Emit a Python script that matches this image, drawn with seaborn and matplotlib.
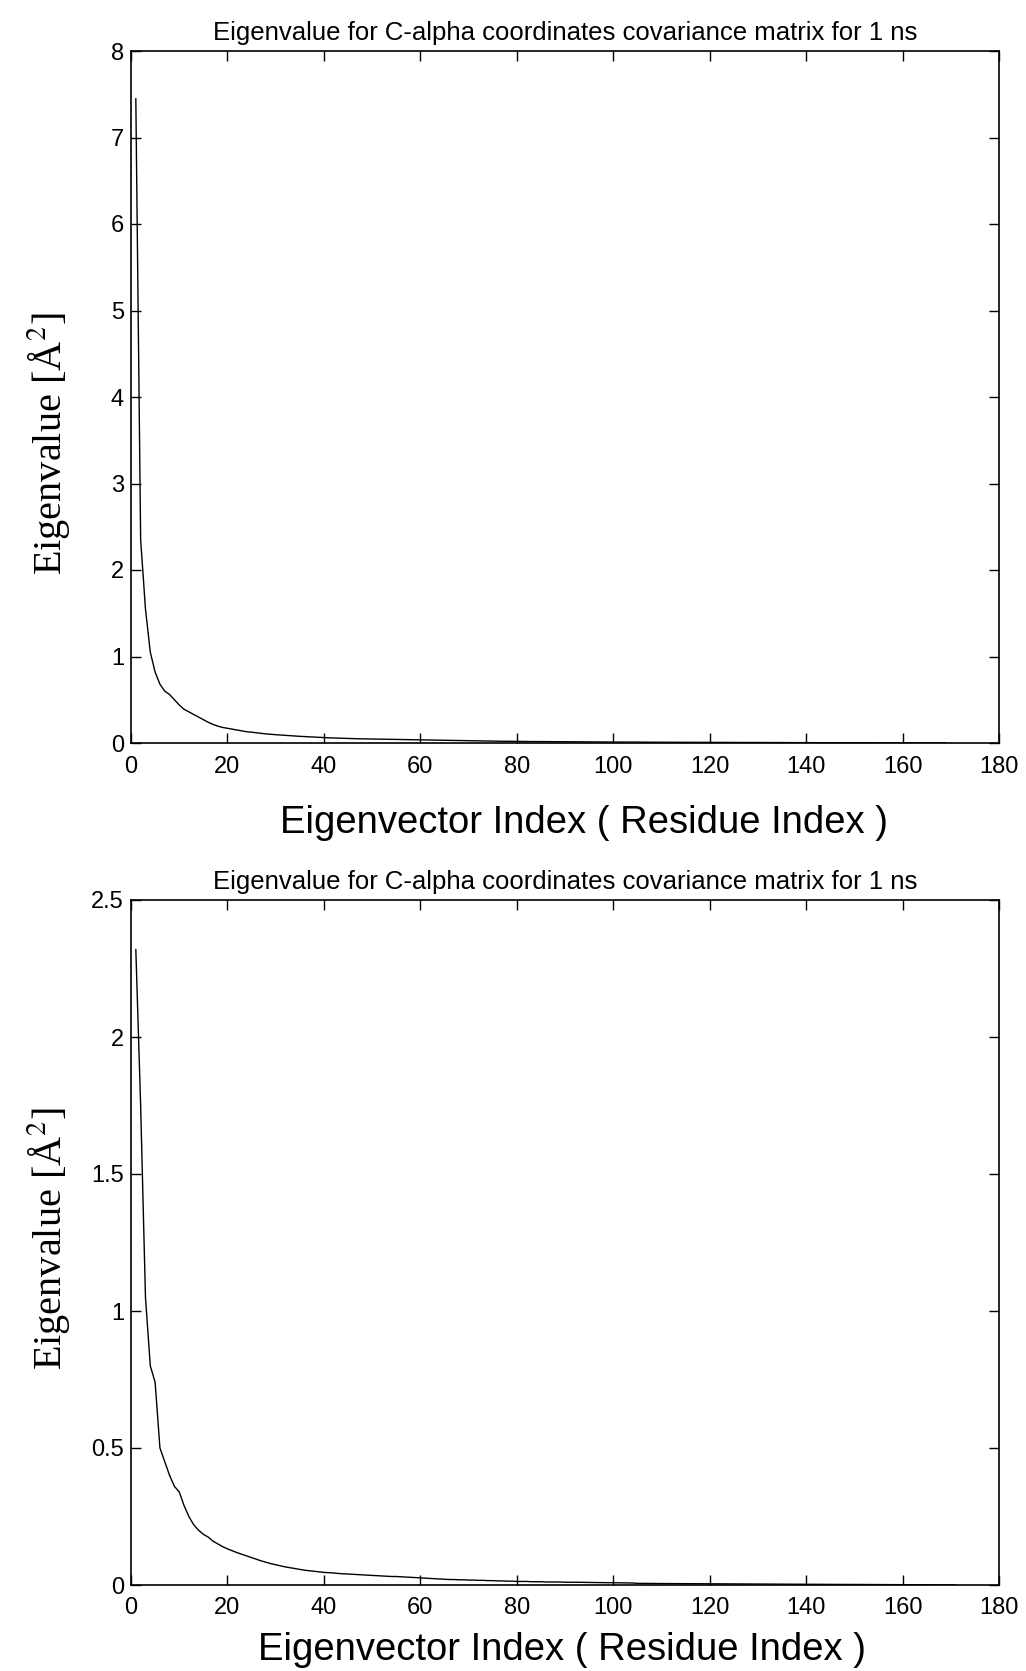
import numpy as np
import pandas as pd
import matplotlib
matplotlib.use("Agg")
import matplotlib.pyplot as plt
from matplotlib import font_manager as fm
import seaborn as sns

# ---------------- data ----------------
title_text = "Eigenvalue for C-alpha coordinates covariance matrix for 1 ns"
xlabel_text = "Eigenvector Index ( Residue Index )"
ylabel_text = "Eigenvalue [Å$^{2}$]"

xticks = [0, 20, 40, 60, 80, 100, 120, 140, 160, 180]
yticks_top = [0, 1, 2, 3, 4, 5, 6, 7, 8]
yticks_bottom = [0, 0.5, 1, 1.5, 2, 2.5]
ytick_labels_bottom = ["0", "0.5", "1", "1.5", "2", "2.5"]

eig_top = [
    7.45, 2.35, 1.55, 1.05, 0.82, 0.68, 0.60, 0.56, 0.50, 0.44,
    0.39, 0.36, 0.33, 0.30, 0.27, 0.24, 0.215, 0.195, 0.18, 0.17,
    0.16, 0.15, 0.14, 0.13, 0.125, 0.118, 0.112, 0.105, 0.10, 0.096,
    0.092, 0.088, 0.084, 0.080, 0.077, 0.074, 0.071, 0.068, 0.065, 0.062,
    0.060, 0.058, 0.056, 0.054, 0.052, 0.050, 0.049, 0.048, 0.046, 0.045,
    0.044, 0.043, 0.042, 0.041, 0.040, 0.039, 0.038, 0.037, 0.036, 0.035,
    0.034, 0.033, 0.032, 0.031, 0.030, 0.029, 0.028, 0.028, 0.027, 0.026,
    0.025, 0.024, 0.023, 0.022, 0.021, 0.021, 0.020, 0.020, 0.019, 0.019,
    0.018, 0.018, 0.017, 0.017, 0.016, 0.016, 0.015, 0.015, 0.015, 0.014,
    0.014, 0.014, 0.013, 0.013, 0.013, 0.012, 0.012, 0.012, 0.011, 0.011,
    0.011, 0.011, 0.010, 0.010, 0.010, 0.010, 0.009, 0.009, 0.009, 0.009,
    0.0088, 0.0086, 0.0084, 0.0082, 0.0080, 0.0078, 0.0076, 0.0074, 0.0072, 0.0070,
    0.0068, 0.0066, 0.0065, 0.0063, 0.0062, 0.0060, 0.0058, 0.0057, 0.0055, 0.0054,
    0.0052, 0.0051, 0.0050, 0.0048, 0.0047, 0.0046, 0.0044, 0.0043, 0.0042, 0.0041,
    0.0040, 0.0038, 0.0037, 0.0036, 0.0035, 0.0034, 0.0033, 0.0032, 0.0031, 0.0030,
    0.0029, 0.0028, 0.0027, 0.0026, 0.0025, 0.0024, 0.0023, 0.0022, 0.0021, 0.0020,
    0.0019, 0.0018, 0.0017, 0.0016, 0.0015, 0.0013, 0.0011, 0.0009, 0.0006,
]

eig_bottom = [
    2.32, 1.75, 1.05, 0.80, 0.74, 0.50, 0.45, 0.40, 0.36, 0.34,
    0.29, 0.25, 0.22, 0.20, 0.185, 0.175, 0.16, 0.15, 0.14, 0.132,
    0.125, 0.118, 0.112, 0.106, 0.100, 0.094, 0.088, 0.083, 0.078, 0.074,
    0.070, 0.066, 0.063, 0.060, 0.057, 0.054, 0.052, 0.050, 0.048, 0.046,
    0.045, 0.044, 0.042, 0.041, 0.040, 0.039, 0.038, 0.037, 0.036, 0.035,
    0.034, 0.033, 0.032, 0.031, 0.031, 0.030, 0.029, 0.028, 0.027, 0.026,
    0.025, 0.024, 0.023, 0.022, 0.021, 0.020, 0.020, 0.019, 0.019, 0.018,
    0.018, 0.017, 0.017, 0.016, 0.016, 0.015, 0.015, 0.014, 0.014, 0.013,
    0.013, 0.013, 0.012, 0.012, 0.012, 0.011, 0.011, 0.011, 0.011, 0.010,
    0.010, 0.010, 0.010, 0.0095, 0.0093, 0.0090, 0.0088, 0.0086, 0.0084, 0.0082,
    0.0080, 0.0078, 0.0076, 0.0074, 0.0060, 0.0058, 0.0056, 0.0055, 0.0054, 0.0053,
    0.0052, 0.0051, 0.0050, 0.0049, 0.0048, 0.0047, 0.0046, 0.0045, 0.0044, 0.0043,
    0.0042, 0.0041, 0.0040, 0.0039, 0.0038, 0.0037, 0.0036, 0.0035, 0.0034, 0.0033,
    0.0032, 0.0031, 0.0030, 0.0030, 0.0029, 0.0028, 0.0028, 0.0027, 0.0026, 0.0026,
    0.0025, 0.0024, 0.0024, 0.0023, 0.0022, 0.0022, 0.0021, 0.0020, 0.0020, 0.0019,
    0.0018, 0.0018, 0.0017, 0.0016, 0.0016, 0.0015, 0.0014, 0.0014, 0.0013, 0.0012,
    0.0012, 0.0011, 0.0010, 0.0010, 0.0009, 0.0008, 0.0007, 0.0006, 0.0005, 0.0004, 0.0003,
]

df_top = pd.DataFrame({"index": np.arange(1, len(eig_top) + 1), "eig": eig_top})
df_bot = pd.DataFrame({"index": np.arange(1, len(eig_bottom) + 1), "eig": eig_bottom})

# ---------------- style ----------------
sns.set_theme(style="ticks")
names = {f.name for f in fm.fontManager.ttflist}
sans = "Liberation Sans Narrow" if "Liberation Sans Narrow" in names else "Liberation Sans"
plt.rcParams["font.family"] = [sans, "DejaVu Sans"]
plt.rcParams["mathtext.fontset"] = "stix"

W, H = 1026, 1671
fig = plt.figure(figsize=(W / 100, H / 100), dpi=100)
fig.patch.set_facecolor("white")

def fx(px):
    return px / W

def fy(py):
    return 1 - py / H

ax_top = fig.add_axes([fx(131), fy(743), fx(999) - fx(131), fy(51) - fy(743)])
ax_bot = fig.add_axes([fx(131), fy(1585), fx(999) - fx(131), fy(900) - fy(1585)])

panels = [
    # ax, data, ylim, yticks, yticklabels, ylabel y, xlabel x, xlabel top (axes frac)
    (ax_top, df_top, (0, 8), yticks_top, [str(v) for v in yticks_top], 0.432, 0.522, -0.090),
    (ax_bot, df_bot, (0, 2.5), yticks_bottom, ytick_labels_bottom, 0.505, 0.497, -0.068),
]

for ax, df, ylim, yt, ytl, ylab_y, xlab_x, xlab_y in panels:
    sns.lineplot(data=df, x="index", y="eig", ax=ax, color="black",
                 linewidth=1.0, estimator=None, legend=False)
    ax.set_facecolor("white")
    ax.set_xlim(0, 180)
    ax.set_ylim(*ylim)
    ax.set_xticks(xticks)
    ax.set_xticklabels([str(v) for v in xticks])
    ax.set_yticks(yt)
    ax.set_yticklabels(ytl)
    for s in ax.spines.values():
        s.set_visible(True)
        s.set_color("black")
        s.set_linewidth(1.2)
    ax.tick_params(axis="both", which="major", direction="in", length=7, width=1.0,
                   color="black", labelsize=17, labelcolor="black",
                   top=True, right=True)
    ax.tick_params(axis="x", pad=9)
    ax.tick_params(axis="y", pad=5)
    ax.grid(False)
    ax.set_title(title_text, fontsize=18.5, color="black", pad=8)
    ax.set_xlabel(xlabel_text, fontsize=27.5, color="black")
    ax.xaxis.set_label_coords(xlab_x, xlab_y)
    ax.set_ylabel(ylabel_text, fontsize=29, color="black",
                  family=["Liberation Serif", "DejaVu Serif"])
    ax.yaxis.set_label_coords(-0.068, ylab_y)

fig.savefig("out.png", dpi=100, facecolor="white")
